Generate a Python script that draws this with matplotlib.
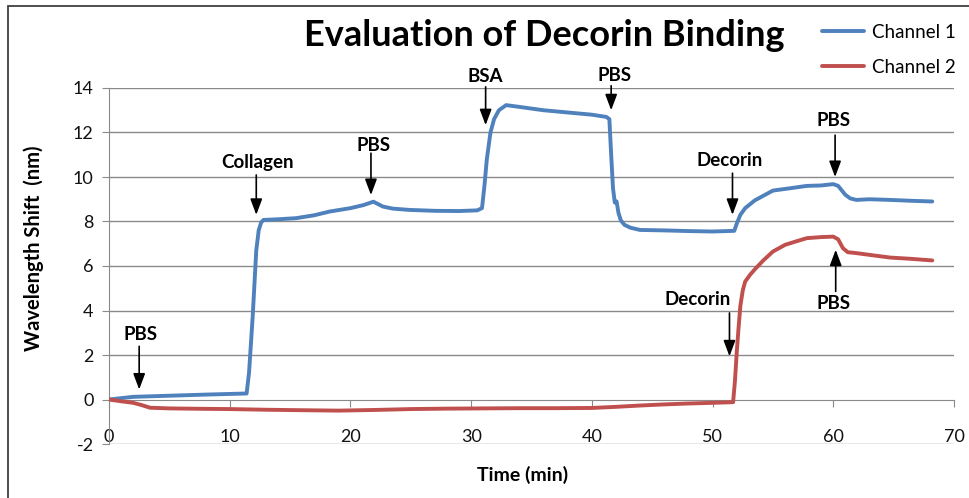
import matplotlib
matplotlib.use("Agg")
import matplotlib.pyplot as plt
from matplotlib.patches import Rectangle

plt.rcParams['font.family'] = ['Lato', 'DejaVu Sans']

# ---------------- data ----------------
t_ch1 = [0, 2, 5, 8, 11.4, 11.6, 11.9, 12.2, 12.4, 12.6, 12.8, 14, 15.5, 17, 18.3,
         20, 21.1, 21.9, 22.7, 23.5, 24.9, 27, 29, 30.5, 30.9, 31.1, 31.3, 31.6, 31.9,
         32.3, 32.9, 34, 36, 38, 40, 41.2, 41.45, 41.6, 41.75, 41.9, 42.05, 42.2, 42.4,
         42.7, 43.2, 44, 46, 48, 50, 51.8, 52.0, 52.3, 52.7, 53.5, 55, 56.5, 57.8, 59,
         60.0, 60.4, 61.0, 61.4, 61.9, 63, 64.7, 66.5, 68.2]
v_ch1 = [0, 0.12, 0.17, 0.22, 0.27, 1.2, 3.7, 6.7, 7.6, 7.95, 8.07, 8.1, 8.15, 8.28, 8.45,
         8.6, 8.74, 8.89, 8.67, 8.58, 8.52, 8.48, 8.47, 8.5, 8.6, 9.6, 10.8, 12.0, 12.6,
         13.0, 13.23, 13.15, 13.0, 12.9, 12.8, 12.7, 12.6, 11.0, 9.5, 8.85, 8.9, 8.4, 8.05,
         7.85, 7.72, 7.62, 7.6, 7.57, 7.55, 7.58, 7.9, 8.3, 8.6, 8.95, 9.39, 9.5, 9.6, 9.62,
         9.68, 9.6, 9.2, 9.04, 8.97, 9.0, 8.97, 8.93, 8.9]

t_ch2 = [0, 1, 2, 2.7, 3.4, 5, 8, 10, 13, 15.8, 19, 22, 25, 28, 31, 34, 37, 40, 42, 44,
         46, 48, 50, 51.7, 51.85, 52.0, 52.15, 52.3, 52.5, 52.7, 53.1, 53.5, 54.2, 55, 56,
         57, 57.8, 59, 60.0, 60.4, 60.8, 61.2, 61.9, 63, 64.7, 66.5, 68.2]
v_ch2 = [0, -0.08, -0.15, -0.25, -0.37, -0.4, -0.42, -0.43, -0.46, -0.48, -0.5, -0.47,
         -0.43, -0.41, -0.4, -0.39, -0.39, -0.38, -0.33, -0.27, -0.22, -0.18, -0.15, -0.12,
         0.8, 2.1, 3.2, 4.2, 4.9, 5.3, 5.6, 5.85, 6.25, 6.65, 6.95, 7.12, 7.25, 7.3, 7.32,
         7.2, 6.8, 6.62, 6.58, 6.5, 6.38, 6.32, 6.25]

series_names = ['Channel 1', 'Channel 2']

x_ticks = [0, 10, 20, 30, 40, 50, 60, 70]
y_ticks = [-2, 0, 2, 4, 6, 8, 10, 12, 14]

ann_labels = ['PBS', 'Collagen', 'PBS', 'BSA', 'PBS', 'Decorin', 'PBS', 'Decorin', 'PBS']
ann_arrow_x = [2.5, 12.2, 21.7, 31.2, 41.6, 51.65, 60.15, 51.4, 60.2]
ann_text_x = [2.6, 12.3, 21.9, 31.15, 41.9, 51.45, 60.0, 48.8, 60.0]
ann_text_y = [2.9, 10.67, 11.43, 14.5, 14.57, 10.76, 12.56, 4.48, 4.33]
ann_tail_y = [2.39, 10.09, 11.07, 14.05, 14.1, 10.17, 11.88, 3.89, 4.86]
ann_tip_y = [0.45, 8.3, 9.19, 12.33, 13.0, 8.3, 10.0, 1.94, 6.73]

# ---------------- figure ----------------
W, H = 969, 498
fig = plt.figure(figsize=(W / 100, H / 100), dpi=100)
ax = fig.add_axes([109 / W, 1 - 444 / H, (954 - 109) / W, (444 - 88) / H])

# outer border (cropped on right/bottom)
fig.patches.append(Rectangle((8 / W, -0.1), 1.2, 1.1 - 6 / H, transform=fig.transFigure,
                             fill=False, edgecolor='#404040', linewidth=1.3))

grid_c = '#8a8a8a'
ax.set_xlim(0, 70)
ax.set_ylim(-2, 14)
ax.set_yticks(y_ticks)
ax.set_xticks(x_ticks)
for y in y_ticks:
    if y != 0:
        ax.axhline(y, color=grid_c, lw=1.0, zorder=1)

for s in ['top', 'right']:
    ax.spines[s].set_visible(False)
ax.spines['bottom'].set_position(('data', 0))
ax.spines['bottom'].set_color(grid_c)
ax.spines['left'].set_color(grid_c)
ax.spines['bottom'].set_zorder(1)
ax.tick_params(axis='x', direction='out', length=5, color=grid_c, pad=16.5,
               labelsize=13, labelcolor='#111111')
ax.tick_params(axis='y', direction='out', length=5, color=grid_c, pad=6,
               labelsize=13, labelcolor='#111111')
ax.set_yticklabels([str(v) for v in y_ticks])
ax.set_xticklabels([str(v) for v in x_ticks])

l1, = ax.plot(t_ch1, v_ch1, color='#4F81BD', lw=2.8, solid_capstyle='round',
              solid_joinstyle='round', zorder=3, label=series_names[0])
l2, = ax.plot(t_ch2, v_ch2, color='#C0504D', lw=2.8, solid_capstyle='round',
              solid_joinstyle='round', zorder=3, label=series_names[1])

for lab, ax_x, tx, ty, tail, tip in zip(ann_labels, ann_arrow_x, ann_text_x, ann_text_y,
                                        ann_tail_y, ann_tip_y):
    ax.annotate('', xy=(ax_x, tip), xytext=(ax_x, tail), annotation_clip=False,
                arrowprops=dict(arrowstyle='-|>,head_length=0.8,head_width=0.3',
                                mutation_scale=12, color='black', lw=1.2,
                                shrinkA=0, shrinkB=0), zorder=5)
    ax.text(tx, ty, lab, ha='center', va='center', fontsize=13.5, fontweight='bold',
            color='black', zorder=5, clip_on=False)

ax.set_xlabel('Time (min)', fontsize=14, fontweight='bold')
ax.xaxis.set_label_coords(0.49, -0.062)
ax.set_ylabel('Wavelength Shift  (nm)', fontsize=14.5, fontweight='bold')
ax.yaxis.set_label_coords(-0.077, 0.549)

fig.text(544 / W, 1 - 36 / H, 'Evaluation of Decorin Binding', ha='center', va='center',
         fontsize=26, fontweight='bold')

fig.legend(handles=[l1, l2], labels=series_names, loc='upper left',
           bbox_to_anchor=(805.5 / W, 1 - 7 / H), frameon=False, fontsize=13.5,
           handlelength=2.24, handletextpad=0.43, labelspacing=0.96)

fig.savefig('out.png', dpi=100)
